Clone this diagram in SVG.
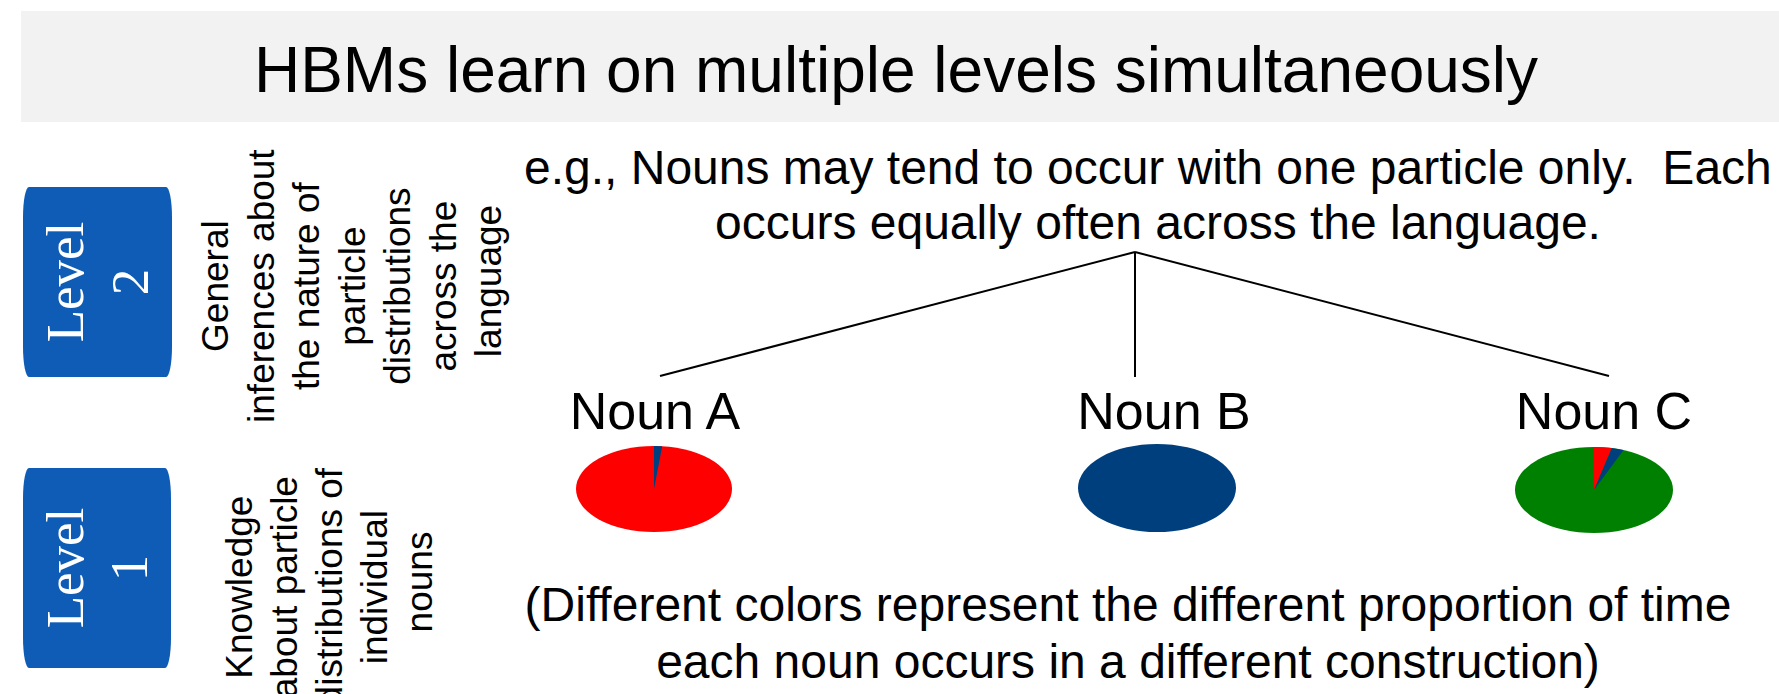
<svg xmlns="http://www.w3.org/2000/svg" width="1779" height="694" viewBox="0 0 1779 694">
<style>
.sans{font-family:"Liberation Sans",Arial,sans-serif;fill:#000}
.lvl{font-family:"Liberation Serif","Times New Roman",serif;font-size:53px;fill:#fff;text-anchor:middle}
.desc{font-family:"Liberation Sans",Arial,sans-serif;font-size:37px;fill:#000;text-anchor:middle}
.box{fill:#0F5CB6}
.conn{stroke:#000;stroke-width:2;fill:none}
.noun{font-family:"Liberation Sans",Arial,sans-serif;font-size:52px;fill:#000;text-anchor:middle}
</style>
<rect id="title-bar" x="21" y="11" width="1758" height="111" fill="#F2F2F2"/>
<text id="title" class="sans" x="896" y="92" font-size="64" text-anchor="middle">HBMs learn on multiple levels simultaneously</text>

<g id="level2">
  <rect class="box" x="23" y="187" width="149" height="190" rx="6" ry="30"/>
  <text class="lvl" transform="translate(0,282) rotate(-90)"><tspan x="0" y="83">Level</tspan><tspan x="0" y="148">2</tspan></text>
</g>
<g id="level2-desc">
  <text class="desc" transform="translate(0,281) rotate(-90)">
    <tspan x="0" y="228">General</tspan>
    <tspan x="0" y="273.5">inferences about</tspan>
    <tspan x="0" y="319">the nature of</tspan>
    <tspan x="0" y="364.5">particle</tspan>
    <tspan x="0" y="410">distributions</tspan>
    <tspan x="0" y="455.5">across the</tspan>
    <tspan x="0" y="501">language</tspan>
  </text>
</g>

<g id="level1">
  <rect class="box" x="23" y="468" width="148" height="200" rx="6" ry="30"/>
  <text class="lvl" transform="translate(0,568) rotate(-90)"><tspan x="0" y="83">Level</tspan><tspan x="0" y="147">1</tspan></text>
</g>
<g id="level1-desc">
  <text class="desc" transform="translate(0,582) rotate(-90)">
    <tspan x="0" y="252">Knowledge</tspan>
    <tspan x="0" y="297">about particle</tspan>
    <tspan x="0" y="342">distributions of</tspan>
    <tspan x="0" y="387">individual</tspan>
    <tspan x="0" y="432">nouns</tspan>
  </text>
</g>

<g id="top-node">
  <text class="sans" font-size="48" xml:space="preserve"><tspan x="524" y="184">e.g., Nouns may tend to occur with one particle only.  Each</tspan><tspan x="1158" y="239" text-anchor="middle">occurs equally often across the language.</tspan></text>
</g>

<g id="connectors">
  <line class="conn" x1="1135" y1="252" x2="660" y2="376"/>
  <line class="conn" x1="1135" y1="252" x2="1135" y2="377"/>
  <line class="conn" x1="1135" y1="252" x2="1609" y2="376"/>
</g>

<g id="noun-a">
  <text class="noun" x="655" y="429">Noun A</text>
  <ellipse cx="654" cy="489" rx="78" ry="43" fill="#FF0000"/>
  <path d="M654,489 L654,446 A78,43 0 0,1 662.2,446.2 Z" fill="#003F7D"/>
</g>

<g id="noun-b">
  <text class="noun" x="1164" y="429">Noun B</text>
  <ellipse cx="1157" cy="488" rx="79" ry="44" fill="#003F7D"/>
</g>

<g id="noun-c">
  <text class="noun" x="1604" y="429">Noun C</text>
  <ellipse cx="1594" cy="490" rx="79" ry="43" fill="#008000"/>
  <path d="M1594,490 L1594,447 A79,43 0 0,1 1611.8,448.1 Z" fill="#FF0000"/>
  <path d="M1594,490 L1611.8,448.1 A79,43 0 0,1 1623.6,450.1 Z" fill="#003F7D"/>
</g>

<g id="caption">
  <text class="sans" font-size="48" text-anchor="middle"><tspan x="1128" y="621">(Different colors represent the different proportion of time</tspan><tspan x="1128" y="678">each noun occurs in a different construction)</tspan></text>
</g>
</svg>
